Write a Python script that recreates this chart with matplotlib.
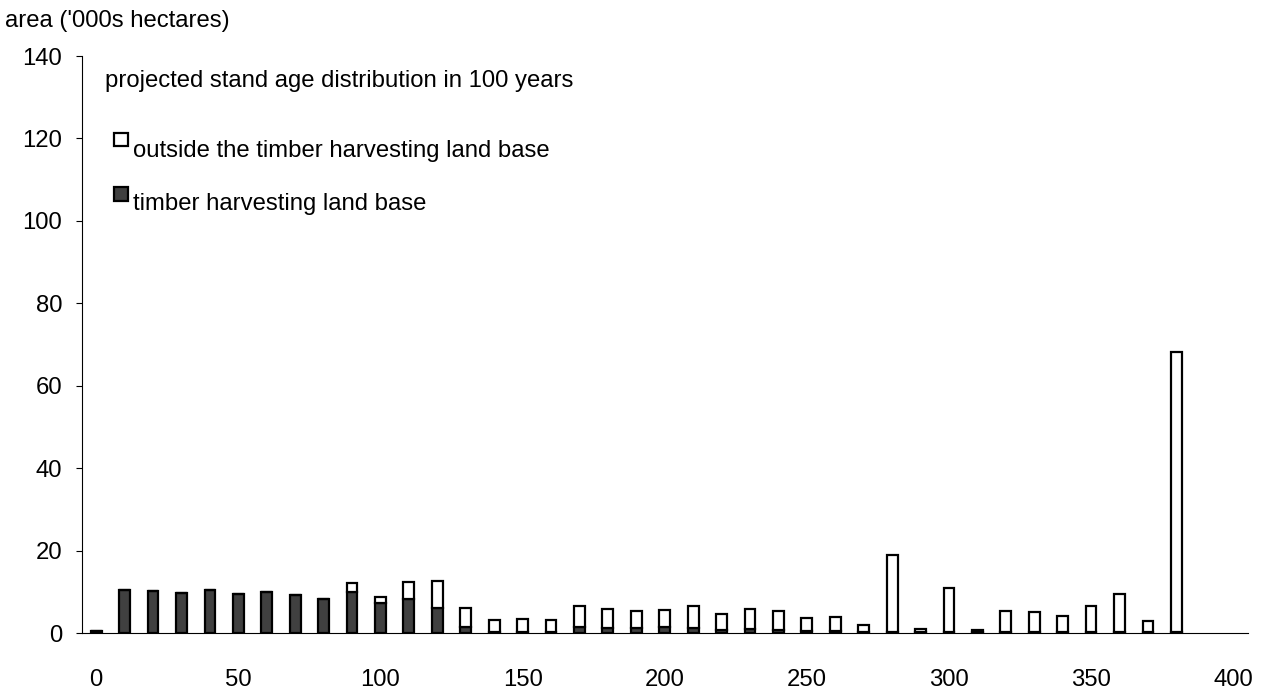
import matplotlib
matplotlib.use("Agg")
import matplotlib.pyplot as plt
from matplotlib.patches import Rectangle

plt.rcParams['font.family'] = ['Liberation Sans', 'DejaVu Sans']

ages = [0, 10, 20, 30, 40, 50, 60, 70, 80, 90, 100, 110, 120, 130, 140, 150, 160, 170, 180, 190,
        200, 210, 220, 230, 240, 250, 260, 270, 280, 290, 300, 310, 320, 330, 340, 350, 360, 370, 380]
thlb = [0.5, 10.5, 10.3, 9.8, 10.4, 9.6, 9.9, 9.3, 8.3, 10.1, 7.3, 8.4, 6.1, 1.5, 0.4, 0.3, 0.3, 1.6, 1.2, 1.2,
        1.5, 1.2, 0.7, 1.0, 0.8, 0.6, 0.6, 0.3, 0.3, 0.3, 0.4, 0.3, 0.3, 0.3, 0.2, 0.2, 0.2, 0.2, 0.2]
total = [0.5, 10.5, 10.3, 9.8, 10.4, 9.6, 9.9, 9.3, 8.3, 12.2, 8.8, 12.5, 12.8, 6.2, 3.2, 3.5, 3.2, 6.6, 5.8, 5.5,
         5.7, 6.5, 4.8, 5.8, 5.5, 3.8, 3.9, 2.0, 19.0, 1.0, 10.9, 0.9, 5.4, 5.1, 4.3, 6.7, 9.5, 3.1, 68.3]
outside = [t - h for t, h in zip(total, thlb)]

y_ticks = [0, 20, 40, 60, 80, 100, 120, 140]
x_ticks = [0, 50, 100, 150, 200, 250, 300, 350, 400]

W, H = 1265, 694
FS = 17.2
fig = plt.figure(figsize=(W / 100, H / 100), dpi=100)
ax = fig.add_axes([82 / W, (H - 633.3) / H, (1248 - 82) / W, (633.3 - 56) / H])

dark = '#404040'
ax.bar(ages, thlb, width=3.8, color=dark, edgecolor='black', linewidth=1.6, zorder=3)
ax.bar(ages, outside, bottom=thlb, width=3.8, color='white', edgecolor='black', linewidth=1.6, zorder=3)

ax.set_xlim(-5.0, 405.2)
ax.set_ylim(0, 140)
ax.set_yticks(y_ticks)
ax.set_xticks(x_ticks)
ax.tick_params(axis='y', direction='out', length=4.3, width=0.8, labelsize=FS, pad=10)
ax.tick_params(axis='x', length=0, labelsize=FS, pad=26)
for s in ['top', 'right']:
    ax.spines[s].set_visible(False)
ax.spines['left'].set_linewidth(0.8)
ax.spines['bottom'].set_linewidth(0.8)

fig.text(5 / W, 1 - 27 / H, "area ('000s hectares)", fontsize=FS, va='baseline', ha='left')
fig.text(105 / W, 1 - 87 / H, "projected stand age distribution in 100 years", fontsize=FS,
         va='baseline', ha='left')

fig.patches.append(Rectangle((114 / W, 1 - 146 / H), 14 / W, 13 / H, transform=fig.transFigure,
                             facecolor='white', edgecolor='black', linewidth=1.6))
fig.text(133 / W, 1 - 157 / H, "outside the timber harvesting land base", fontsize=FS,
         va='baseline', ha='left')
fig.patches.append(Rectangle((114 / W, 1 - 201 / H), 14 / W, 14 / H, transform=fig.transFigure,
                             facecolor=dark, edgecolor='black', linewidth=1.6))
fig.text(133 / W, 1 - 210 / H, "timber harvesting land base", fontsize=FS,
         va='baseline', ha='left')

fig.savefig('out.png', dpi=100)
